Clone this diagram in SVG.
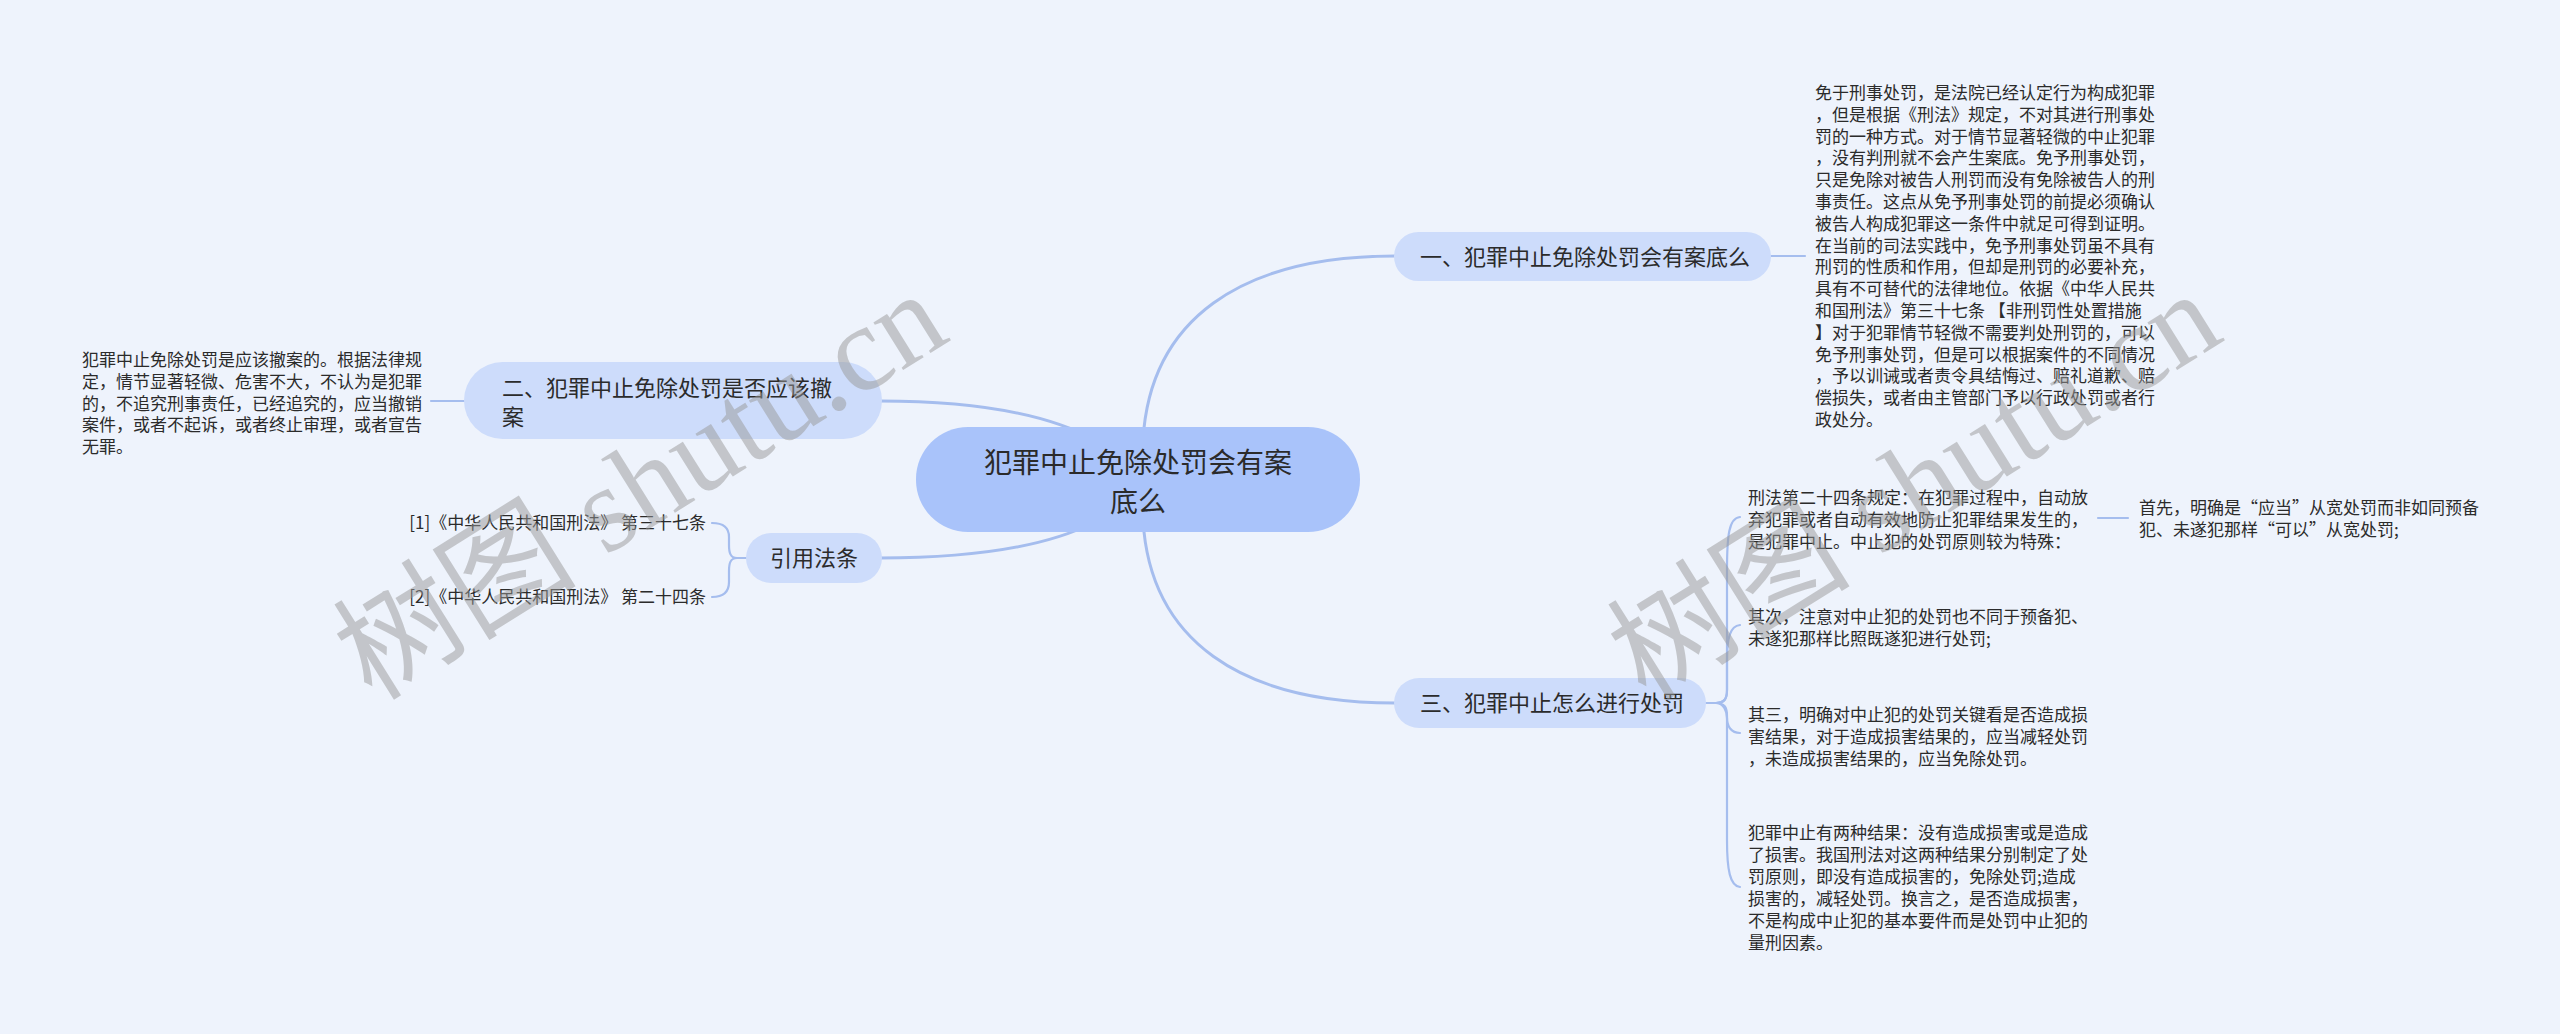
<svg xmlns="http://www.w3.org/2000/svg" width="2560" height="1034" viewBox="0 0 2560 1034">
<style>
.bg{fill:#eef3fc}
.root{fill:#a9c3fa}
.sub{fill:#cddcfb}
.t{font-family:"Noto Sans CJK SC","Microsoft YaHei",sans-serif;fill:#2b2b2b}
.s17{font-size:17px}
.s22{font-size:22px}
.s28{font-size:28px}
.ln{fill:none;stroke:#a5bdee;stroke-width:2.2;stroke-linecap:round}
.main{fill:none;stroke:#a5bdee;stroke-width:3}
.wm{font-family:"Liberation Serif","Noto Sans CJK SC",serif;font-size:122px;fill:#999999;opacity:0.5}
</style>
<rect class="bg" x="0" y="0" width="2560" height="1034"/>
<g id="connectors">
<path class="main" d="M1143,440 C1150,320 1240,256 1395,256"/>
<path class="main" d="M1143,520 C1150,640 1240,703 1395,703"/>
<path class="main" d="M1095,440 C1040,410 960,401 880,401"/>
<path class="main" d="M1095,522 C1040,550 960,558 880,558"/>
<path class="ln" d="M1771,256 H1805"/>
<path class="ln" d="M465,401 H431"/>
<path class="ln" d="M746,558 H737 C730,558 729,552 729,545 V537 C729,528 724,523 712,523"/>
<path class="ln" d="M746,558 H737 C730,558 729,564 729,571 V582 C729,592 724,597 712,597"/>
<path class="ln" d="M1706,703 H1716 C1725,703 1727,698 1727,690 V570 C1727,535 1729,518 1740,517"/>
<path class="ln" d="M1706,703 H1716 C1725,703 1727,698 1727,690 V660 C1727,638 1730,626 1740,625"/>
<path class="ln" d="M1706,703 H1716 C1724,703 1727,712 1727,718 C1727,726 1731,733 1740,733"/>
<path class="ln" d="M1706,703 H1716 C1725,703 1727,708 1727,716 V840 C1727,870 1730,886 1740,887"/>
<path class="ln" d="M2098,518 H2128"/>
</g>
<g id="root">
<rect class="root" x="916" y="427" width="444" height="105" rx="52"/>
<text class="t s28" x="1138" y="473" text-anchor="middle">犯罪中止免除处罚会有案</text>
<text class="t s28" x="1138" y="512" text-anchor="middle">底么</text>
</g>
<g id="node1">
<rect class="sub" x="1394" y="232" width="377" height="49" rx="24.5"/>
<text class="t s22" x="1420" y="265">一、犯罪中止免除处罚会有案底么</text>
</g>
<g id="node1-text">
<text class="t s17">
<tspan x="1815" y="99">免于刑事处罚，是法院已经认定行为构成犯罪</tspan>
<tspan x="1815" y="120.8">，但是根据《刑法》规定，不对其进行刑事处</tspan>
<tspan x="1815" y="142.6">罚的一种方式。对于情节显著轻微的中止犯罪</tspan>
<tspan x="1815" y="164.4">，没有判刑就不会产生案底。免予刑事处罚，</tspan>
<tspan x="1815" y="186.2">只是免除对被告人刑罚而没有免除被告人的刑</tspan>
<tspan x="1815" y="208">事责任。这点从免予刑事处罚的前提必须确认</tspan>
<tspan x="1815" y="229.8">被告人构成犯罪这一条件中就足可得到证明。</tspan>
<tspan x="1815" y="251.6">在当前的司法实践中，免予刑事处罚虽不具有</tspan>
<tspan x="1815" y="273.4">刑罚的性质和作用，但却是刑罚的必要补充，</tspan>
<tspan x="1815" y="295.2">具有不可替代的法律地位。依据《中华人民共</tspan>
<tspan x="1815" y="317">和国刑法》第三十七条 【非刑罚性处置措施</tspan>
<tspan x="1815" y="338.8">】对于犯罪情节轻微不需要判处刑罚的，可以</tspan>
<tspan x="1815" y="360.6">免予刑事处罚，但是可以根据案件的不同情况</tspan>
<tspan x="1815" y="382.4">，予以训诫或者责令具结悔过、赔礼道歉、赔</tspan>
<tspan x="1815" y="404.2">偿损失，或者由主管部门予以行政处罚或者行</tspan>
<tspan x="1815" y="426">政处分。</tspan>
</text>
</g>
<g id="node2">
<rect class="sub" x="464" y="362" width="418" height="77" rx="38.5"/>
<text class="t s22" x="502" y="396">二、犯罪中止免除处罚是否应该撤</text>
<text class="t s22" x="502" y="425">案</text>
</g>
<g id="node2-text">
<text class="t s17">
<tspan x="82" y="366">犯罪中止免除处罚是应该撤案的。根据法律规</tspan>
<tspan x="82" y="387.8">定，情节显著轻微、危害不大，不认为是犯罪</tspan>
<tspan x="82" y="409.6">的，不追究刑事责任，已经追究的，应当撤销</tspan>
<tspan x="82" y="431.4">案件，或者不起诉，或者终止审理，或者宣告</tspan>
<tspan x="82" y="453.2">无罪。</tspan>
</text>
</g>
<g id="node-ref">
<rect class="sub" x="746" y="533" width="136" height="50" rx="25"/>
<text class="t s22" x="814" y="566" text-anchor="middle">引用法条</text>
</g>
<g id="ref1">
<text class="t s17" x="706" y="529" text-anchor="end">[1]《中华人民共和国刑法》 第三十七条</text>
</g>
<g id="ref2">
<text class="t s17" x="706" y="603" text-anchor="end">[2]《中华人民共和国刑法》 第二十四条</text>
</g>
<g id="node3">
<rect class="sub" x="1394" y="678" width="312" height="50" rx="25"/>
<text class="t s22" x="1420" y="711">三、犯罪中止怎么进行处罚</text>
</g>
<g id="node3-c1">
<text class="t s17">
<tspan x="1748" y="504">刑法第二十四条规定：在犯罪过程中，自动放</tspan>
<tspan x="1748" y="526">弃犯罪或者自动有效地防止犯罪结果发生的，</tspan>
<tspan x="1748" y="548">是犯罪中止。中止犯的处罚原则较为特殊：</tspan>
</text>
</g>
<g id="node3-c1-1">
<text class="t s17">
<tspan x="2139" y="514">首先，明确是“应当”从宽处罚而非如同预备</tspan>
<tspan x="2139" y="536">犯、未遂犯那样“可以”从宽处罚;</tspan>
</text>
</g>
<g id="node3-c2">
<text class="t s17">
<tspan x="1748" y="623">其次，注意对中止犯的处罚也不同于预备犯、</tspan>
<tspan x="1748" y="645">未遂犯那样比照既遂犯进行处罚;</tspan>
</text>
</g>
<g id="node3-c3">
<text class="t s17">
<tspan x="1748" y="721">其三，明确对中止犯的处罚关键看是否造成损</tspan>
<tspan x="1748" y="743">害结果，对于造成损害结果的，应当减轻处罚</tspan>
<tspan x="1748" y="765">，未造成损害结果的，应当免除处罚。</tspan>
</text>
</g>
<g id="node3-c4">
<text class="t s17">
<tspan x="1748" y="839">犯罪中止有两种结果：没有造成损害或是造成</tspan>
<tspan x="1748" y="861">了损害。我国刑法对这两种结果分别制定了处</tspan>
<tspan x="1748" y="883">罚原则，即没有造成损害的，免除处罚;造成</tspan>
<tspan x="1748" y="905">损害的，减轻处罚。换言之，是否造成损害，</tspan>
<tspan x="1748" y="927">不是构成中止犯的基本要件而是处罚中止犯的</tspan>
<tspan x="1748" y="949">量刑因素。</tspan>
</text>
</g>
<g id="watermark">
<text class="wm" transform="translate(372,702) rotate(-32)">树图 shutu.cn</text>
<text class="wm" transform="translate(1646,702) rotate(-32)">树图 shutu.cn</text>
</g>
</svg>
